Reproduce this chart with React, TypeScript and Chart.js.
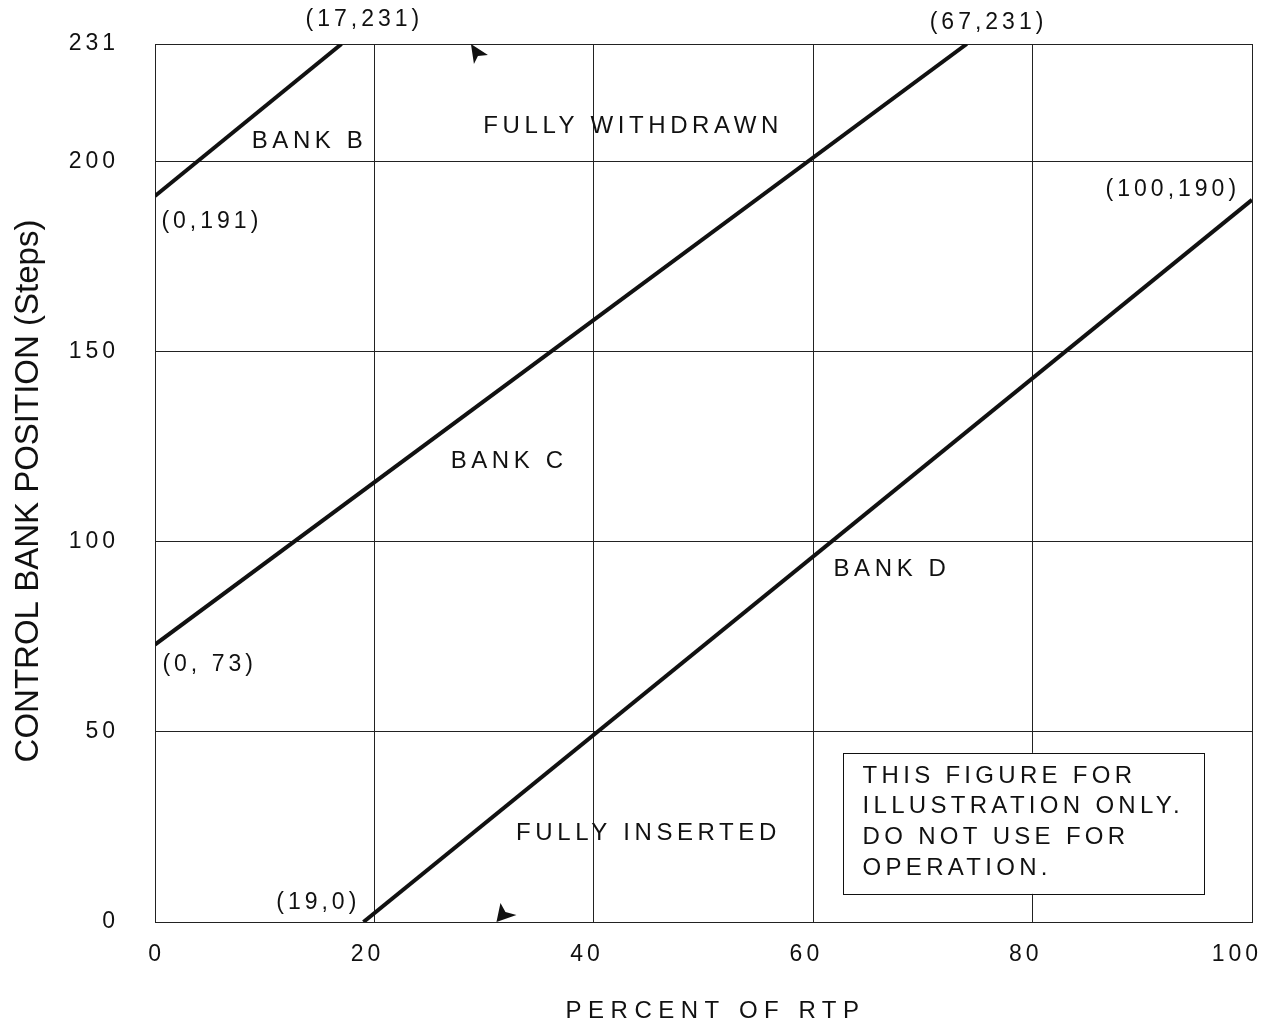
import React, { useEffect, useRef } from 'react';
import { Chart, registerables } from 'chart.js';

Chart.register(...registerables);

// ---- data ----
const xTicks = [0, 20, 40, 60, 80, 100];
const yTicks = [0, 50, 100, 150, 200, 231];

const bankBX = [0, 17];
const bankBY = [191, 231];
const bankCX = [0, 74];
const bankCY = [73, 231];
const bankDX = [19, 100];
const bankDY = [0, 190];

const xTitle = 'PERCENT OF RTP';
const yTitle = 'CONTROL BANK POSITION (Steps)';

// text notes anchored in data space
const noteTexts = ['(17,231)', '(67,231)', 'BANK B', 'FULLY WITHDRAWN', '(0,191)', '(100,190)', 'BANK C', '(0, 73)', 'BANK D', 'FULLY INSERTED', '(19,0)'];
const noteX = [18.9, 75.8, 13.9, 43.4, 5.0, 92.6, 32.1, 4.8, 67.0, 44.8, 14.7];
const noteY = [237.4, 236.6, 205.5, 209.2, 184.2, 192.6, 121.1, 67.6, 92.9, 23.4, 5.0];

const boxLines = ['THIS FIGURE FOR', 'ILLUSTRATION ONLY.', 'DO NOT USE FOR', 'OPERATION.'];
const boxX = [62.7, 95.6];
const boxY = [7.4, 44.5];
const boxTextX = 64.5;
const boxTextY = [38.4, 30.5, 22.3, 14.2];

const markerX = [28.8, 31.4];
const markerY = [231, 0];

const FONT = '"Liberation Sans", Arial, Helvetica, sans-serif';
const INK = '#111';

const toXY = (xs: number[], ys: number[]) => xs.map((x, i) => ({ x, y: ys[i] }));

const spacingPlugin = {
  id: 'spacing',
  beforeDraw(chart: any) {
    chart.ctx.letterSpacing = '4px';
  },
};

const overlayPlugin = {
  id: 'overlay',
  afterDraw(chart: any) {
    const { ctx, chartArea } = chart;
    const xs = chart.scales.x;
    const ys = chart.scales.y;
    ctx.save();
    ctx.fillStyle = INK;
    ctx.strokeStyle = INK;

    // notes
    ctx.textAlign = 'center';
    ctx.textBaseline = 'middle';
    noteTexts.forEach((t, i) => {
      const coord = t.startsWith('(');
      ctx.font = `${coord ? 23 : 24}px ${FONT}`;
      ctx.letterSpacing = coord ? '4px' : '4.6px';
      ctx.fillText(t, xs.getPixelForValue(noteX[i]) + 2, ys.getPixelForValue(noteY[i]));
    });

    // box
    const bx0 = xs.getPixelForValue(boxX[0]);
    const bx1 = xs.getPixelForValue(boxX[1]);
    const by0 = ys.getPixelForValue(boxY[1]);
    const by1 = ys.getPixelForValue(boxY[0]);
    ctx.fillStyle = '#fff';
    ctx.fillRect(bx0, by0, bx1 - bx0, by1 - by0);
    ctx.lineWidth = 1;
    ctx.strokeRect(Math.round(bx0) + 0.5, Math.round(by0) + 0.5, Math.round(bx1 - bx0), Math.round(by1 - by0));
    ctx.fillStyle = INK;
    ctx.font = `24px ${FONT}`;
    ctx.letterSpacing = '4.3px';
    ctx.textAlign = 'left';
    boxLines.forEach((t, i) => {
      ctx.fillText(t, xs.getPixelForValue(boxTextX), ys.getPixelForValue(boxTextY[i]));
    });

    // small arrowhead markers
    const shapes = [
      [[0, 0], [3, 20], [7, 12], [17, 11]],
      [[-3, 0], [1, -19], [6, -10], [17, -7]],
    ];
    markerX.forEach((mx, i) => {
      const px = xs.getPixelForValue(mx);
      const py = ys.getPixelForValue(markerY[i]);
      ctx.beginPath();
      shapes[i].forEach(([dx, dy], k) => (k === 0 ? ctx.moveTo(px + dx, py + dy) : ctx.lineTo(px + dx, py + dy)));
      ctx.closePath();
      ctx.fill();
    });

    // axis titles
    ctx.textAlign = 'center';
    ctx.textBaseline = 'middle';
    ctx.font = `24px ${FONT}`;
    ctx.letterSpacing = '6.5px';
    ctx.fillText(xTitle, (chartArea.left + chartArea.right) / 2 + 12, 1003);

    ctx.save();
    ctx.translate(21, (chartArea.top + chartArea.bottom) / 2 + 8);
    ctx.rotate(-Math.PI / 2);
    ctx.font = `33px ${FONT}`;
    ctx.letterSpacing = '0px';
    ctx.fillText(yTitle, 0, 0);
    ctx.restore();

    ctx.restore();
  },
};

export default function App() {
  const ref = useRef<HTMLCanvasElement>(null);

  useEffect(() => {
    if (!ref.current) return;
    const lineStyle = {
      borderColor: INK,
      borderWidth: 4,
      pointRadius: 0,
      fill: false,
      tension: 0,
    };
    const chart = new Chart(ref.current, {
      type: 'line',
      data: {
        datasets: [
          { label: 'BANK B', data: toXY(bankBX, bankBY), ...lineStyle },
          { label: 'BANK C', data: toXY(bankCX, bankCY), ...lineStyle },
          { label: 'BANK D', data: toXY(bankDX, bankDY), ...lineStyle },
        ],
      },
      options: {
        animation: false,
        responsive: true,
        maintainAspectRatio: false,
        layout: { padding: { top: 36, right: 6, left: 0, bottom: 0 } },
        plugins: {
          legend: { display: false },
          tooltip: { enabled: false },
        },
        scales: {
          x: {
            type: 'linear',
            min: 0,
            max: 100,
            afterBuildTicks: (s: any) => {
              s.ticks = xTicks.map((v) => ({ value: v }));
            },
            afterFit: (s: any) => {
              s.height = 104;
              s.paddingLeft = 0;
              s.paddingRight = 0;
            },
            grid: { color: '#222', lineWidth: 1, drawTicks: false },
            border: { display: true, color: '#222', width: 1 },
            ticks: {
              color: INK,
              font: { family: FONT, size: 23 },
              padding: 19,
              align: 'end',
              labelOffset: 10,
              maxRotation: 0,
              autoSkip: false,
            },
            title: { display: false },
          },
          y: {
            type: 'linear',
            min: 0,
            max: 231,
            afterBuildTicks: (s: any) => {
              s.ticks = yTicks.map((v) => ({ value: v }));
            },
            afterFit: (s: any) => {
              s.width = 147;
              s.paddingTop = 0;
              s.paddingBottom = 0;
            },
            grid: { color: '#222', lineWidth: 1, drawTicks: false },
            border: { display: true, color: '#222', width: 1 },
            ticks: {
              color: INK,
              font: { family: FONT, size: 23 },
              padding: 36,
              autoSkip: false,
            },
            title: { display: false },
          },
        },
      },
      plugins: [spacingPlugin, overlayPlugin],
    } as any);
    return () => chart.destroy();
  }, []);

  return (
    <div style={{ position: 'relative', width: 1250, height: 1018 }}>
      <canvas ref={ref} />
    </div>
  );
}
